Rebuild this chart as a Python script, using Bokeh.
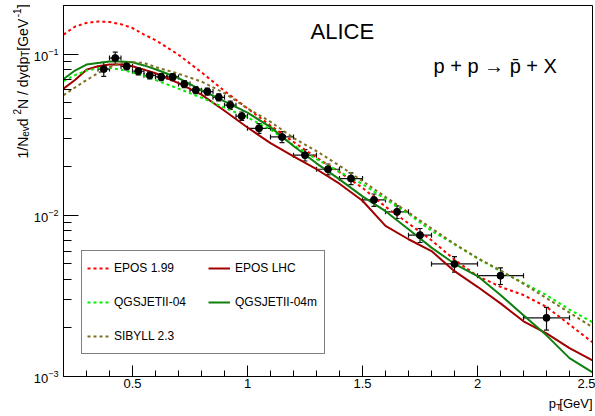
import numpy as np
from bokeh.plotting import figure
from bokeh.layouts import row, column
from bokeh.models import (FixedTicker, CustomJSTickFormatter, Label, Legend, LegendItem,
                          Whisker, ColumnDataSource, TeeHead, Range1d)
from bokeh.embed import file_html
from bokeh.resources import INLINE

# ---------------- data ----------------
pt = [0.375, 0.425, 0.475, 0.525, 0.575, 0.625, 0.675, 0.725, 0.775, 0.825, 0.875, 0.925, 0.975,
      1.05, 1.15, 1.25, 1.35, 1.45, 1.55, 1.65, 1.75, 1.9, 2.1, 2.3]
pt_err = [0.025] * 13 + [0.05] * 8 + [0.1] * 3
yld = [0.0807, 0.0944, 0.0839, 0.0782, 0.0738, 0.0721, 0.0721, 0.0652, 0.0597, 0.0585, 0.0539, 0.0482,
       0.0412, 0.0346, 0.0306, 0.0236, 0.0193, 0.0169, 0.01245, 0.0105, 0.00753, 0.00499, 0.00422, 0.00231]
yld_err = [0.0081, 0.0085, 0.0042, 0.0039, 0.0037, 0.0036, 0.0036, 0.0033, 0.0030, 0.0029, 0.0027, 0.0029,
           0.0025, 0.0024, 0.0024, 0.0019, 0.0015, 0.0014, 0.0011, 0.00095, 0.00075, 0.00055, 0.0005, 0.00037]

model_pt = [0.2, 0.25, 0.3, 0.35, 0.4, 0.45, 0.5, 0.55, 0.6, 0.7, 0.8, 0.9, 1.0, 1.1, 1.2, 1.3, 1.4,
            1.5, 1.6, 1.7, 1.8, 1.9, 2.0, 2.1, 2.2, 2.3, 2.4, 2.5]
epos199 = [0.132, 0.148, 0.156, 0.159, 0.158, 0.153, 0.145, 0.132, 0.122, 0.099, 0.077, 0.059, 0.046,
           0.036, 0.0285, 0.0228, 0.0185, 0.0148, 0.0113, 0.0089, 0.0070, 0.0053, 0.0042, 0.0036,
           0.0032, 0.0027, 0.0021, 0.00163]
eposlhc = [0.061, 0.069, 0.080, 0.084, 0.086, 0.086, 0.084, 0.080, 0.076, 0.066, 0.056, 0.0445, 0.035,
           0.028, 0.0232, 0.0193, 0.0157, 0.0123, 0.0086, 0.0071, 0.0060, 0.0045, 0.0036, 0.00284,
           0.0022, 0.00185, 0.00150, 0.00126]
qgs04 = [0.068, 0.074, 0.079, 0.0815, 0.082, 0.080, 0.077, 0.0735, 0.069, 0.061, 0.0536, 0.0465, 0.0405,
         0.034, 0.0272, 0.0223, 0.0186, 0.0156, 0.0126, 0.0102, 0.0080, 0.0066, 0.0054, 0.0045,
         0.0038, 0.0032, 0.0026, 0.00217]
qgs04m = [0.070, 0.079, 0.086, 0.088, 0.090, 0.090, 0.089, 0.085, 0.0805, 0.071, 0.0598, 0.0508, 0.0433,
          0.0352, 0.0269, 0.0210, 0.0167, 0.0131, 0.0106, 0.0082, 0.0063, 0.0050, 0.0042, 0.0032,
          0.0024, 0.0018, 0.00130, 0.00106]
sibyll = [0.0556, 0.062, 0.069, 0.076, 0.083, 0.088, 0.089, 0.088, 0.083, 0.0755, 0.0675, 0.0572, 0.046,
          0.038, 0.0302, 0.0250, 0.0203, 0.0163, 0.0130, 0.0104, 0.0083, 0.00665, 0.00543, 0.00455,
          0.00376, 0.00306, 0.00249, 0.00202]

x_major = [0.5, 1, 1.5, 2, 2.5]
x_minor = [0.3, 0.4, 0.6, 0.7, 0.8, 0.9, 1.1, 1.2, 1.3, 1.4, 1.6, 1.7, 1.8, 1.9, 2.1, 2.2, 2.3, 2.4]
y_major = [1e-3, 1e-2, 1e-1]
y_minor = [2e-3, 3e-3, 4e-3, 5e-3, 6e-3, 7e-3, 8e-3, 9e-3,
           2e-2, 3e-2, 4e-2, 5e-2, 6e-2, 7e-2, 8e-2, 9e-2, 2e-1]

FONT = "Liberation Sans"
LEFT_W = 30
MAIN_W = 595 - LEFT_W
MAIN_H = 393
BOT_H = 416 - MAIN_H

p = figure(width=MAIN_W, height=MAIN_H, y_axis_type="log",
           x_range=Range1d(0.2, 2.5), y_range=Range1d(1e-3, 0.2),
           output_backend="svg", toolbar_location=None,
           min_border_left=63 - LEFT_W, min_border_right=3, min_border_top=5, min_border_bottom=17)
p.xgrid.visible = False
p.ygrid.visible = False
p.outline_line_color = "black"
p.outline_line_width = 1
p.background_fill_color = "white"
p.border_fill_color = "white"

xa = p.xaxis[0]
xa.ticker = FixedTicker(ticks=x_major, minor_ticks=x_minor)
xa.formatter = CustomJSTickFormatter(code="return tick.toString();")
xa.major_tick_in = 11
xa.major_tick_out = 0
xa.minor_tick_in = 6
xa.minor_tick_out = 0
xa.major_label_text_font = FONT
xa.major_label_text_font_size = "13px"
xa.major_label_text_color = "black"
xa.major_label_standoff = 2
xa.axis_line_color = "black"

ya = p.yaxis[0]
ya.ticker = FixedTicker(ticks=y_major, minor_ticks=y_minor)
ya.major_tick_in = 15
ya.major_tick_out = 0
ya.minor_tick_in = 8
ya.minor_tick_out = 0
ya.major_label_text_font = FONT
ya.major_label_text_font_size = "13px"
ya.major_label_text_color = "black"
ya.major_label_standoff = 5
ya.axis_line_color = "black"

# ---------------- model curves ----------------
r1 = p.line(model_pt, epos199, line_color="#ff0000", line_width=2, line_dash="3 3")
r2 = p.line(model_pt, eposlhc, line_color="#a00000", line_width=2)
r3 = p.line(model_pt, qgs04, line_color="#00ee00", line_width=2, line_dash="3 3")
r4 = p.line(model_pt, qgs04m, line_color="#0f7f0f", line_width=2)
r5 = p.line(model_pt, sibyll, line_color="#7d7020", line_width=2, line_dash="3 3")

# ---------------- data points ----------------
pt_a = np.array(pt)
y_a = np.array(yld)
src = ColumnDataSource(dict(
    x=pt_a, y=y_a,
    ylo=y_a - np.array(yld_err), yhi=y_a + np.array(yld_err),
    xlo=pt_a - np.array(pt_err), xhi=pt_a + np.array(pt_err)))
EC = "#111111"
p.add_layout(Whisker(source=src, base="x", lower="ylo", upper="yhi", dimension="height",
                     line_color=EC, line_width=1.2,
                     upper_head=TeeHead(size=5, line_color=EC, line_width=1.2),
                     lower_head=TeeHead(size=5, line_color=EC, line_width=1.2)))
p.add_layout(Whisker(source=src, base="y", lower="xlo", upper="xhi", dimension="width",
                     line_color=EC, line_width=1.2,
                     upper_head=TeeHead(size=5, line_color=EC, line_width=1.2),
                     lower_head=TeeHead(size=5, line_color=EC, line_width=1.2)))
p.scatter("x", "y", source=src, size=7, fill_color="black", line_color="black")

# ---------------- legend ----------------
legend = Legend(items=[
    LegendItem(label="EPOS 1.99", renderers=[r1]),
    LegendItem(label="QGSJETII-04", renderers=[r3]),
    LegendItem(label="SIBYLL 2.3", renderers=[r5]),
    LegendItem(label="EPOS LHC", renderers=[r2]),
    LegendItem(label="QGSJETII-04m", renderers=[r4]),
], location=(18, 22), orientation="vertical", nrows=3,
    label_text_font=FONT, label_text_font_size="12px", label_text_color="black",
    glyph_width=22, glyph_height=24, label_height=24, label_width=84, label_standoff=5,
    spacing=10, padding=5, margin=0,
    border_line_color="black", border_line_width=1, background_fill_color="white",
    background_fill_alpha=1)
p.add_layout(legend)


def lab(fig, x, y, t, size, angle=0.0, align="left"):
    fig.add_layout(Label(x=x, y=y, x_units="screen", y_units="screen", text=t, angle=angle,
                         text_font=FONT, text_font_size=f"{size}px", text_color="black",
                         text_align=align, text_baseline="alphabetic"))


lab(p, 247, 345, "ALICE", 22)
lab(p, 370, 311, "p + p \u2192 p\u0304 + X", 20)


def strip(w, h):
    f = figure(width=w, height=h, x_range=Range1d(0, 1), y_range=Range1d(0, 1),
               x_axis_location=None, y_axis_location=None, min_border=0,
               output_backend="svg", toolbar_location=None)
    f.grid.visible = False
    f.outline_line_color = None
    f.background_fill_color = "white"
    f.border_fill_color = "white"
    return f


# y-axis title 1/N_ev d^2N / dydp_T [GeV^-1] (rotated), in a strip left of the plot
ys = strip(LEFT_W, 416)
ang = np.pi / 2
bx = 22
yy = 258
pieces = [("1/N", 14, 0, 1.556), ("ev", 10, 3, 1.056), (" d", 14, 0, 0.834), ("2", 10, -6, 0.556),
          ("N / dydp", 14, 0, 3.724), ("T", 10, 3, 0.611), (" [GeV", 14, 0, 2.39),
          ("-1", 10, -6, 0.889), ("]", 14, 0, 0.278)]
for t, s, dx, em in pieces:
    lab(ys, bx + dx, yy, t, s, angle=ang)
    yy += em * s

# x-axis title p_T[GeV]; the strip's frame lines up with the plot frame (x from 63 to 592)
xs = strip(MAIN_W, BOT_H)
lab(xs, 529, 13, "[GeV]", 13, align="right")
lab(xs, 498, 10, "T", 9, align="right")
lab(xs, 492.5, 13, "p", 13, align="right")

layout = row(ys, column(p, xs))
open("out.html", "w").write(file_html(layout, INLINE))
